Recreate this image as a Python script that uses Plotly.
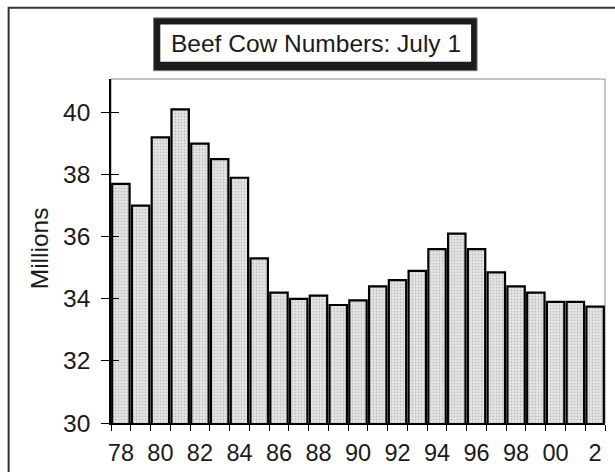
import plotly.graph_objects as go

# Beef cow inventory on July 1, millions of head
years = list(range(1978, 2003))
cows = [37.7, 37.0, 39.2, 40.1, 39.0, 38.5, 37.9, 35.3, 34.2, 34.0,
        34.1, 33.8, 33.95, 34.4, 34.6, 34.9, 35.6, 36.1, 35.6, 34.85,
        34.4, 34.2, 33.9, 33.9, 33.75]
label_years = list(range(1978, 2003, 2))
label_text = ["78", "80", "82", "84", "86", "88", "90", "92", "94", "96", "98", "00", "2"]
y_ticks = [30, 32, 34, 36, 38, 40]

FONT = "Liberation Sans, Arial, sans-serif"
INK = "#1a1a1a"

fig = go.Figure()
fig.add_trace(go.Bar(
    x=years, y=cows,
    marker=dict(
        color="#e2e2e2",
        line=dict(color="black", width=2.2),
        pattern=dict(shape=".", fgcolor="#9a9a9a", bgcolor="#e6e6e6",
                     size=3, solidity=0.3),
    ),
    width=0.88,
    hoverinfo="x+y",
))

x_range = [years[0] - 0.5, years[-1] + 0.5]
y_range = [30, 41.08]
boundaries = [y - 0.5 for y in years] + [years[-1] + 0.5]

fig.update_layout(
    width=615, height=472,
    margin=dict(l=111, r=10, t=79, b=49),
    paper_bgcolor="white", plot_bgcolor="white",
    font=dict(family=FONT, size=24, color=INK),
    showlegend=False,
    xaxis=dict(
        range=x_range, tickvals=boundaries, showticklabels=False,
        ticks="outside", ticklen=6, tickcolor="black", tickwidth=1,
        showline=True, linecolor="black", linewidth=1.5,
        showgrid=False, zeroline=False, automargin=False,
    ),
    xaxis2=dict(
        overlaying="x", anchor="y", side="bottom", range=x_range,
        tickvals=label_years, ticktext=label_text, ticks="",
        ticklabelstandoff=13, automargin=False,
        showgrid=False, zeroline=False, showline=False,
        tickfont=dict(size=23.5, color=INK),
    ),
    yaxis=dict(
        range=y_range, tickvals=y_ticks, ticks="outside", ticklen=8,
        tickcolor="black", tickwidth=1, ticklabelstandoff=6,
        showline=True, linecolor="black", linewidth=1.5,
        showgrid=False, zeroline=False, automargin=False,
        tickfont=dict(size=24.5, color=INK),
    ),
    yaxis2=dict(
        overlaying="y", anchor="x", side="left", range=y_range,
        tickvals=y_ticks, ticks="inside", ticklen=8, tickcolor="black",
        tickwidth=1, showticklabels=False, showgrid=False,
        zeroline=False, showline=False, automargin=False,
    ),
)

# empty traces so the overlay axes are rendered
fig.add_trace(go.Scatter(x=[years[0]], y=[None], xaxis="x2", yaxis="y",
                         hoverinfo="skip", showlegend=False))
fig.add_trace(go.Scatter(x=[years[0]], y=[None], xaxis="x", yaxis="y2",
                         hoverinfo="skip", showlegend=False))

shapes = [
    # plot-area frame (top and right in grey)
    dict(type="rect", xref="paper", yref="paper", x0=0, x1=1, y0=0, y1=1,
         line=dict(color="#8c8c8c", width=1), layer="below"),
    # chart frame
    dict(type="rect", xref="paper", yref="paper", x0=-0.2072, x1=1.2,
         y0=-0.4, y1=1.2068, line=dict(color="#333333", width=2)),
    # title box: heavy black border with white interior
    dict(type="rect", xref="paper", yref="paper", x0=0.0862, x1=0.741,
         y0=1.0242, y1=1.1776, fillcolor="#1c1c1c",
         line=dict(color="#777777", width=1)),
    dict(type="rect", xref="paper", yref="paper", x0=0.0998, x1=0.7289,
         y0=1.0504, y1=1.1581, fillcolor="white", line=dict(width=0)),
]
fig.update_layout(shapes=shapes)

fig.add_annotation(
    text="Beef Cow Numbers: July 1", xref="paper", yref="paper",
    x=0.4143, y=1.1042, showarrow=False, xanchor="center", yanchor="middle",
    font=dict(size=24.5, color=INK, family=FONT),
)
fig.add_annotation(
    text="Millions", xref="paper", yref="paper", x=-0.143, y=0.509,
    textangle=-90, showarrow=False, xanchor="center", yanchor="middle",
    font=dict(size=24.5, color=INK, family=FONT),
)

fig.write_html("out.html")
